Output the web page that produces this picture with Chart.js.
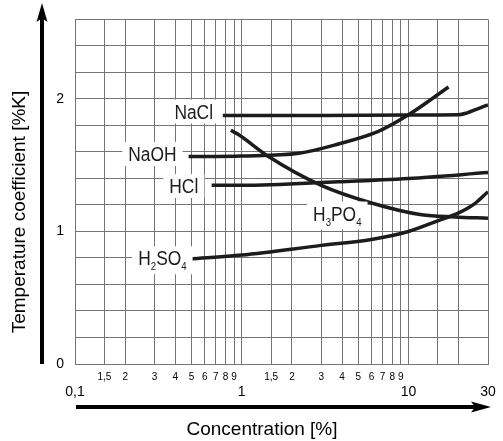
<!DOCTYPE html>
<html lang="en">
  <head>
    <meta charset="utf-8" />
    <title>Temperature coefficient</title>
    <script src="https://cdn.jsdelivr.net/npm/chart.js@4.4.1/dist/chart.umd.min.js"></script>
    <style>
      html, body { margin: 0; padding: 0; background: #fff; }
      .wrap { width: 503px; height: 441px; }
    </style>
  </head>
  <body>
    <div class="wrap"><canvas id="chart"></canvas></div>
    <script>
      // concentration [%] -> temperature coefficient [%/K]
      const naclX = [0.77, 3, 10, 20, 22.5, 26, 30];
      const naclY = [1.875, 1.875, 1.878, 1.88, 1.895, 1.925, 1.955];
      const naohX = [0.48, 1, 2.2, 3.8, 6.6, 10, 17.4];
      const naohY = [1.565, 1.57, 1.59, 1.66, 1.755, 1.88, 2.09];
      const hclX = [0.66, 1, 3.8, 10, 30];
      const hclY = [1.348, 1.348, 1.375, 1.4, 1.444];
      const h3po4X = [0.86, 0.95, 1.43, 3, 6, 12, 19, 30];
      const h3po4Y = [1.763, 1.733, 1.57, 1.348, 1.215, 1.126, 1.11, 1.1];
      const h2so4X = [0.49, 1, 3, 6, 10, 15, 20, 25, 30];
      const h2so4Y = [0.793, 0.822, 0.895, 0.94, 1.0, 1.08, 1.14, 1.21, 1.3];

      // axis ticks
      const xTickValues = [0.1, 0.15, 0.2, 0.3, 0.4, 0.5, 0.6, 0.7, 0.8, 0.9, 1, 1.5, 2, 3, 4, 5, 6, 7, 8, 9, 10, 15, 20, 30];
      const xTickLabels = ["0,1", "1,5", "2", "3", "4", "5", "6", "7", "8", "9", "1", "1,5", "2", "3", "4", "5", "6", "7", "8", "9", "10", "", "", "30"];
      const xMajor = [0.1, 1, 10, 30];
      const yGridValues = [0, 0.2, 0.4, 0.6, 0.8, 1, 1.2, 1.4, 1.6, 1.8, 2, 2.2, 2.4, 2.6];
      const yLabeled = [0, 1, 2];

      // curve names, placed left of each curve (H3PO4 sits below its curve)
      const curveNames = [
        { text: "NaCl", x: 0.673, y: 1.906, align: "right" },
        { text: "NaOH", x: 0.407, y: 1.585, align: "right" },
        { text: "HCl", x: 0.549, y: 1.343, align: "right" },
        { text: "H2SO4", x: 0.467, y: 0.798, align: "right" },
        { text: "H3PO4", x: 2.68, y: 1.135, align: "left" },
      ];

      const FONT = "'Liberation Sans', Arial, sans-serif";
      const INK = "#1c1c1c";
      const GRID = "#747474";

      function pts(xs, ys) {
        return xs.map((x, i) => ({ x: x, y: ys[i] }));
      }

      function curve(label, xs, ys) {
        return {
          label: label,
          data: pts(xs, ys),
          borderColor: INK,
          borderWidth: 3.5,
          pointRadius: 0,
          fill: false,
          cubicInterpolationMode: "monotone",
          borderCapStyle: "butt",
        };
      }

      // chemical formula: digits become subscripts
      function formulaParts(str) {
        return str.match(/[0-9]+|[^0-9]+/g).map((s) => ({ s: s, sub: /^[0-9]/.test(s) }));
      }

      const squeeze = 0.87;
      const mainSize = 20;
      const subSize = 11;

      function formulaWidth(ctx, parts) {
        let w = 0;
        parts.forEach((p) => {
          ctx.font = (p.sub ? subSize : mainSize) + "px " + FONT;
          w += ctx.measureText(p.s).width;
        });
        return w * squeeze;
      }

      const decorations = {
        id: "decorations",
        afterDatasetsDraw(chart) {
          const ctx = chart.ctx;
          const xs = chart.scales.x;
          const ys = chart.scales.y;
          ctx.save();
          curveNames.forEach((n) => {
            const parts = formulaParts(n.text);
            const w = formulaWidth(ctx, parts);
            const px = xs.getPixelForValue(n.x);
            const cy = ys.getPixelForValue(n.y);
            const left = n.align === "right" ? px - w : px;
            const hasSub = parts.some((p) => p.sub);
            ctx.fillStyle = "#fff";
            ctx.fillRect(left - 6, cy - 12, w + 12, hasSub ? 28 : 24);
            ctx.fillStyle = INK;
            ctx.textBaseline = "alphabetic";
            ctx.textAlign = "left";
            const base = cy + 0.358 * mainSize;
            let x = left;
            parts.forEach((p) => {
              ctx.save();
              ctx.font = (p.sub ? subSize : mainSize) + "px " + FONT;
              ctx.translate(x, p.sub ? base + 5 : base);
              ctx.scale(squeeze, 1);
              ctx.fillText(p.s, 0, 0);
              ctx.restore();
              ctx.font = (p.sub ? subSize : mainSize) + "px " + FONT;
              x += ctx.measureText(p.s).width * squeeze;
            });
          });
          ctx.restore();
        },
        afterDraw(chart) {
          const ctx = chart.ctx;
          ctx.save();
          ctx.fillStyle = "#000";
          // vertical arrow
          ctx.fillRect(40, 17, 4, 347);
          ctx.beginPath();
          ctx.moveTo(42, 3);
          ctx.lineTo(47.5, 22);
          ctx.lineTo(42, 18);
          ctx.lineTo(36.5, 22);
          ctx.closePath();
          ctx.fill();
          // horizontal arrow
          ctx.fillRect(76, 405, 400, 4);
          ctx.beginPath();
          ctx.moveTo(491, 407);
          ctx.lineTo(471, 401.5);
          ctx.lineTo(475, 407);
          ctx.lineTo(471, 412.5);
          ctx.closePath();
          ctx.fill();
          // axis titles
          ctx.font = "19px " + FONT;
          ctx.textAlign = "center";
          ctx.textBaseline = "middle";
          ctx.fillText("Concentration [%]", 262, 430);
          ctx.translate(20, 212);
          ctx.rotate(-Math.PI / 2);
          ctx.fillText("Temperature coefficient [%K]", 0, 0);
          ctx.restore();
        },
      };

      const ctx = document.getElementById("chart").getContext("2d");
      const chart = new Chart(ctx, {
        type: "line",
        data: {
          datasets: [
            curve("NaCl", naclX, naclY),
            curve("NaOH", naohX, naohY),
            curve("HCl", hclX, hclY),
            curve("H3PO4", h3po4X, h3po4Y),
            curve("H2SO4", h2so4X, h2so4Y),
          ],
        },
        options: {
          responsive: true,
          maintainAspectRatio: false,
          animation: false,
          layout: { padding: { top: 12, right: 15, bottom: 0, left: 0 } },
          plugins: { legend: { display: false }, tooltip: { enabled: false } },
          scales: {
            x: {
              type: "logarithmic",
              min: 0.1,
              max: 30,
              afterBuildTicks: (scale) => {
                scale.ticks = xTickValues.map((v) => ({ value: v }));
              },
              afterFit: (scale) => {
                scale.height = 77;
              },
              grid: { color: GRID, lineWidth: 1, drawTicks: false },
              border: { color: GRID, width: 1 },
              ticks: {
                autoSkip: false,
                maxRotation: 0,
                padding: 7,
                color: "#000",
                callback: (v, i) => (xMajor.includes(xTickValues[i]) ? ["", xTickLabels[i]] : xTickLabels[i]),
                font: (c) =>
                  c.tick && xMajor.includes(c.tick.value)
                    ? { family: FONT, size: 14, lineHeight: 1 }
                    : { family: FONT, size: 10, lineHeight: 1.2 },
              },
            },
            y: {
              min: 0,
              max: 2.6,
              afterBuildTicks: (scale) => {
                scale.ticks = yGridValues.map((v) => ({ value: v }));
              },
              afterFit: (scale) => {
                scale.width = 75;
              },
              grid: { color: GRID, lineWidth: 1, drawTicks: false },
              border: { color: GRID, width: 1 },
              ticks: {
                padding: 11,
                color: "#000",
                font: { family: FONT, size: 14 },
                callback: (v) => (yLabeled.includes(v) ? String(v) : ""),
              },
            },
          },
        },
        plugins: [decorations],
      });
    </script>
  </body>
</html>
